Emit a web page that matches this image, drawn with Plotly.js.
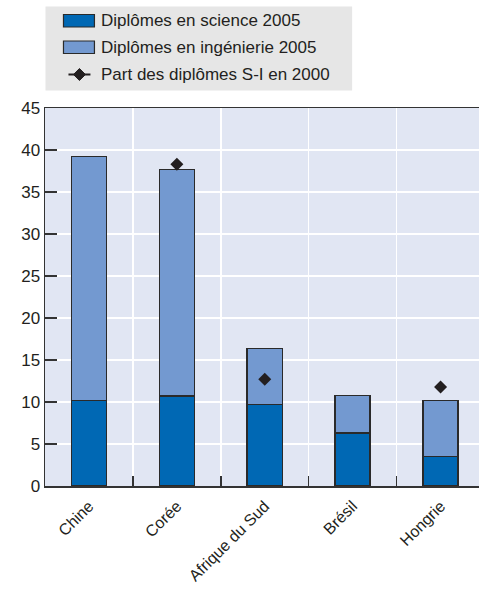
<!DOCTYPE html>
<html><head><meta charset="utf-8">
<script src="https://cdn.plot.ly/plotly-3.0.1.min.js"></script>
<style>html,body{margin:0;padding:0;background:#fff}#chart{width:479px;height:589px}</style>
</head><body><div id="chart"></div>
<script>
const categories = ['Chine', 'Corée', 'Afrique du Sud', 'Brésil', 'Hongrie'];
const science2005 = [10.2, 10.7, 9.7, 6.3, 3.5];
const totalSI2005 = [39.2, 37.7, 16.35, 10.8, 10.15];
const engineering2005 = totalSI2005.map((t, i) => +(t - science2005[i]).toFixed(2));
const share2000 = [null, 38.3, 12.7, null, 11.8];
const legendLabels = ['Diplômes en science 2005', 'Diplômes en ingénierie 2005', 'Part des diplômes S-I en 2000'];
const yTicks = [0, 5, 10, 15, 20, 25, 30, 35, 40, 45];

const W = 479, H = 589;
const M = {l: 44.5, r: 0, t: 108, b: 103};
const PW = W - M.l - M.r, PH = H - M.t - M.b;
const px = x => (x - M.l) / PW;
const py = y => (H - M.b - y) / PH;

const FONT = '"Liberation Sans Narrow", "Liberation Sans", Arial, sans-serif';
const FS = 17;
const DARK = '#231f20';
const C_SCI = '#0068b4';
const C_ENG = '#7399d0';

const traces = [
  {type: 'bar', x: categories, y: science2005, name: legendLabels[0],
   marker: {color: C_SCI, line: {color: '#2a2a2a', width: 1.5}}},
  {type: 'bar', x: categories, y: engineering2005, name: legendLabels[1],
   marker: {color: C_ENG, line: {color: '#2a2a2a', width: 1.5}}},
  {type: 'scatter', mode: 'markers', x: categories, y: share2000, name: legendLabels[2],
   marker: {symbol: 'diamond', size: 10, color: DARK}}
];

const shapes = [
  {type: 'rect', xref: 'paper', yref: 'paper', x0: px(45), x1: px(352), y0: py(90.5), y1: py(6.5),
   fillcolor: '#e6e6e6', line: {width: 0}, layer: 'below'},
  {type: 'rect', xref: 'paper', yref: 'paper', x0: px(63), x1: px(94), y0: py(27), y1: py(14.5),
   fillcolor: C_SCI, line: {color: '#2a2a2a', width: 1.2}},
  {type: 'rect', xref: 'paper', yref: 'paper', x0: px(63), x1: px(94), y0: py(53.5), y1: py(41),
   fillcolor: C_ENG, line: {color: '#2a2a2a', width: 1.2}},
  {type: 'line', xref: 'paper', yref: 'paper', x0: px(68), x1: px(90), y0: py(74.5), y1: py(74.5),
   line: {color: DARK, width: 2}},
  {type: 'path', xref: 'paper', yref: 'paper',
   path: `M${px(79)},${py(68.5)} L${px(85)},${py(74.5)} L${px(79)},${py(80.5)} L${px(73)},${py(74.5)} Z`,
   fillcolor: DARK, line: {color: DARK, width: 1}}
];

const annotations = legendLabels.map((t, i) => ({
  xref: 'paper', yref: 'paper', x: px(99), y: py([21, 47.5, 74.5][i]),
  xanchor: 'left', yanchor: 'middle', showarrow: false, text: t,
  font: {family: FONT, size: FS, color: DARK}
}));

const layout = {
  width: W, height: H, margin: M,
  paper_bgcolor: '#ffffff', plot_bgcolor: '#e1e6f3',
  barmode: 'stack', bargap: 0.6, showlegend: false,
  font: {family: FONT, size: FS, color: DARK},
  xaxis: {type: 'category', range: [-0.5, -0.5 + PW / 88], tickson: 'boundaries',
    showgrid: true, gridcolor: '#ffffff', gridwidth: 1.5,
    ticks: 'inside', ticklen: 10, tickcolor: '#333', tickwidth: 1.5, ticklabelstandoff: 3,
    tickangle: -45, showline: true, linecolor: '#333', linewidth: 1.5, mirror: true,
    tickfont: {family: FONT, size: 16, color: DARK}},
  yaxis: {range: [0, 45], tickvals: yTicks, showgrid: true, gridcolor: '#ffffff', gridwidth: 1.5,
    ticks: 'inside', ticklen: 12, tickcolor: '#333', tickwidth: 1.5,
    showline: true, linecolor: '#333', linewidth: 1.5, zeroline: false,
    tickfont: {family: FONT, size: FS, color: DARK}},
  shapes: shapes, annotations: annotations
};

Plotly.newPlot('chart', traces, layout, {displayModeBar: false, staticPlot: true});
</script></body></html>
